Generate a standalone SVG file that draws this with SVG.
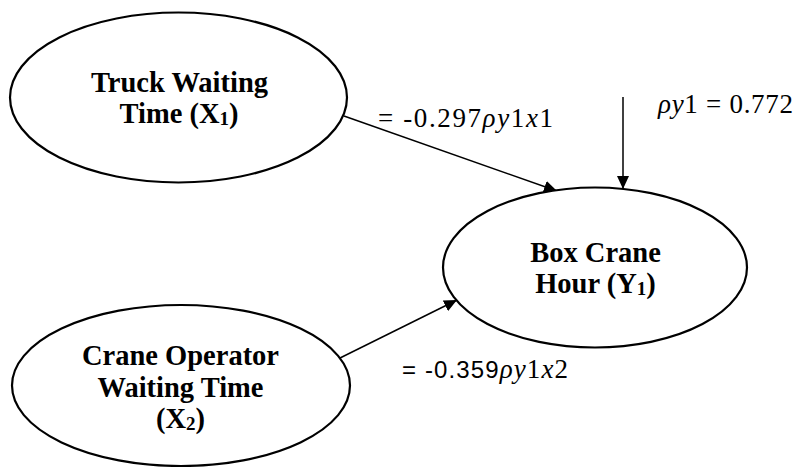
<svg xmlns="http://www.w3.org/2000/svg" width="797" height="467" viewBox="0 0 797 467">
<defs>
<style>
.node ellipse{fill:#fff;stroke:#000;stroke-width:2.2}
.lbl{font-family:"Liberation Serif","Times New Roman",serif;font-weight:bold;font-size:28.5px;fill:#000;text-anchor:middle}
.sub{font-size:19px}
.edge{stroke:#000;stroke-width:1.5;fill:none;marker-end:url(#ah)}
.coef{font-family:"Liberation Serif","Times New Roman",serif;font-size:27px;fill:#000}
.sans{font-family:"Liberation Sans",Arial,sans-serif;font-size:24px}
.it{font-style:italic}
</style>
<marker id="ah" markerUnits="userSpaceOnUse" markerWidth="13" markerHeight="12" refX="13" refY="6" orient="auto">
<path d="M0,0 L13,6 L0,12 z" fill="#000"/>
</marker>
</defs>
<g id="connectors">
<line class="edge" x1="344" y1="116" x2="557" y2="191"/>
<line class="edge" x1="623" y1="97" x2="623" y2="189"/>
<line class="edge" x1="340" y1="358" x2="457" y2="300"/>
</g>
<g id="truck" class="node">
<ellipse cx="178.5" cy="97.5" rx="168.5" ry="85"/>
<text class="lbl" x="179.5" y="92">Truck Waiting</text>
<text class="lbl" x="179" y="123">Time (X<tspan class="sub" dy="2">1</tspan><tspan dy="-2">)</tspan></text>
</g>
<g id="crane-operator" class="node">
<ellipse cx="181" cy="385.5" rx="169" ry="80.5"/>
<text class="lbl" x="180.5" y="365">Crane Operator</text>
<text class="lbl" x="180.5" y="397">Waiting Time</text>
<text class="lbl" x="180.5" y="428">(X<tspan class="sub" dy="2">2</tspan><tspan dy="-2">)</tspan></text>
</g>
<g id="box-crane" class="node">
<ellipse cx="595" cy="267.5" rx="152" ry="80"/>
<text class="lbl" x="595.5" y="262">Box Crane</text>
<text class="lbl" x="595.5" y="293">Hour (Y<tspan class="sub" dy="2">1</tspan><tspan dy="-2">)</tspan></text>
</g>
<g id="labels">
<text class="coef" x="378" y="127" textLength="175" lengthAdjust="spacing">= -0.297<tspan class="it">ρy</tspan>1<tspan class="it">x</tspan>1</text>
<text class="coef" x="658" y="113" textLength="135" lengthAdjust="spacing"><tspan class="it">ρy</tspan>1 = 0.772</text>
<text class="coef" x="402" y="378" textLength="166" lengthAdjust="spacing"><tspan class="sans">= -0.359</tspan><tspan class="it">ρy</tspan>1<tspan class="it">x</tspan>2</text>
</g>
</svg>
